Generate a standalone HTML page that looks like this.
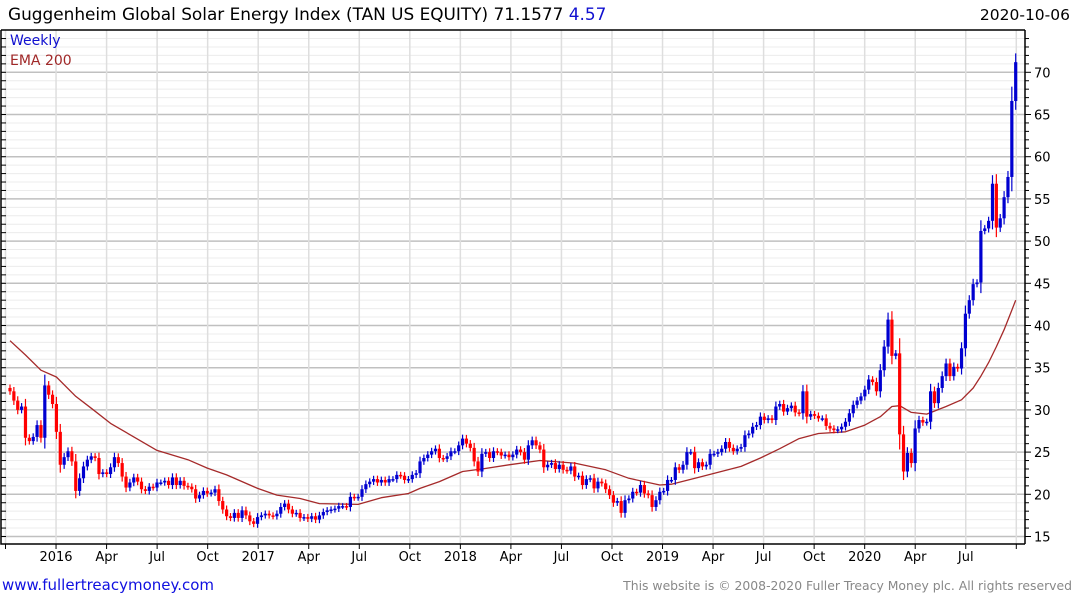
<!DOCTYPE html>
<html><head><meta charset="utf-8"><style>
html,body{margin:0;padding:0;background:#fff;}
body{width:1075px;height:600px;overflow:hidden;font-family:"DejaVu Sans","Liberation Sans",sans-serif;}
svg text{font-family:"DejaVu Sans","Liberation Sans",sans-serif;}
</style></head><body>
<svg id="chart" width="1075" height="600" xmlns="http://www.w3.org/2000/svg">
<g id="grid"></g>
<g id="ema"></g>
<g id="candles"></g>
<g id="axes"></g>
<text x="8" y="20" font-size="16.9" fill="#000">Guggenheim Global Solar Energy Index (TAN US EQUITY) 71.1577 <tspan fill="#1010d0">4.57</tspan></text>
<text x="1070" y="20" font-size="15.5" fill="#000" text-anchor="end">2020-10-06</text>
<text x="10" y="45" font-size="14" fill="#1010d0">Weekly</text>
<text x="10" y="65" font-size="14" fill="#a02828">EMA 200</text>
<text x="2" y="590" font-size="15" fill="#1010e0">www.fullertreacymoney.com</text>
<text x="1072" y="590" font-size="12.4" fill="#888" text-anchor="end">This website is © 2008-2020 Fuller Treacy Money plc. All rights reserved</text>
</svg>
<script>
const closes = [
32.2,31.1,30.0,30.4,26.7,26.3,26.8,28.2,26.7,32.9,
31.8,30.7,27.4,23.5,24.4,25.1,23.9,20.4,21.9,23.3,
24.1,24.5,24.3,22.4,22.6,22.4,23.2,24.4,23.7,22.1,
20.8,21.4,22.0,21.5,20.6,20.4,20.9,20.8,21.4,21.4,
21.6,21.1,22.0,21.1,21.6,21.0,20.9,20.6,19.5,19.9,
20.4,20.1,20.2,20.6,19.2,18.2,17.4,17.2,17.8,17.2,
18.1,17.5,16.8,16.5,17.3,17.5,17.7,17.5,17.4,17.7,
18.5,18.9,18.2,17.7,17.8,17.2,17.3,17.1,17.4,17.0,
17.5,17.9,18.1,18.2,18.3,18.6,18.6,18.5,19.7,19.6,
19.7,
20.6,21.2,21.5,21.8,21.4,21.7,21.4,21.8,21.8,22.3,
22.2,21.7,21.8,22.3,22.5,23.9,24.3,24.7,25.1,25.4,
24.3,24.2,24.5,25.1,25.1,25.8,26.6,26.0,25.5,23.9,
22.7,24.8,25.0,24.3,25.1,25.0,24.6,24.7,24.4,24.7,
25.3,25.0,24.1,25.8,26.4,25.8,25.3,23.2,23.5,23.7,
23.0,23.5,22.9,22.8,23.3,22.1,22.2,21.1,21.8,21.9,
20.7,21.5,21.3,20.6,19.9,19.0,19.2,17.8,19.3,19.5,
20.3,20.2,21.1,20.1,19.9,18.5,19.3,20.3,20.4,21.7,
21.7,23.2,22.9,23.5,
25.0,25.0,23.1,23.8,23.3,23.5,24.8,24.8,25.0,25.4,
26.2,25.5,25.1,25.4,25.6,27.0,27.2,28.0,28.2,29.2,
28.8,29.0,28.8,30.4,30.7,29.8,30.2,30.5,29.7,29.6,
32.2,29.2,29.5,29.3,29.0,29.0,28.1,27.8,27.6,27.7,
28.0,28.6,29.6,30.6,31.1,31.6,32.4,33.6,33.3,32.2,
34.7,37.5,40.7,36.4,36.7,27.1,22.7,24.9,23.7,27.8,
28.8,28.5,28.6,32.2,30.8,32.6,34.0,35.5,34.0,35.1,
34.9,37.3,41.4,43.0,44.9,
45.1,51.2,51.5,52.4,56.8,51.6,52.7,55.2,57.6,66.6,71.2
];
const firstOpen = 32.6;
const emaWeeks = [0,4,8,12,17,21,26,32,38,46,51,56,64,69,75,80,85,90,96,103,106,111,117,122,129,137,146,154,160,168,171,178,189,194,199,204,209,216,221,225,228,230,233,237,242,246,249,251,253,255,257,259,260];
const emaValues = [38.2,36.5,34.7,33.9,31.6,30.2,28.4,26.8,25.2,24.1,23.1,22.3,20.7,19.9,19.5,18.9,18.85,18.8,19.6,20.1,20.7,21.5,22.7,23.0,23.5,24.0,23.7,22.9,21.9,21.1,21.2,22.0,23.3,24.3,25.4,26.6,27.2,27.4,28.2,29.2,30.4,30.5,29.7,29.5,30.4,31.2,32.6,34.0,35.6,37.5,39.5,41.8,43.0];
const yTicks = [15,20,25,30,35,40,45,50,55,60,65,70];
const xTickLabels = ["","2016","Apr","Jul","Oct","2017","Apr","Jul","Oct","2018","Apr","Jul","Oct","2019","Apr","Jul","Oct","2020","Apr","Jul",""];

const NS = "http://www.w3.org/2000/svg";
const L = 1, R = 1025, T = 30, B = 544;
const yScale = v => 72.3 + (70 - v) * 8.44;
const x0 = 10, x1 = 1015.7;
const xScale = i => x0 + i * (x1 - x0) / (closes.length - 1);
const qx = k => 5.5 + k * 50.54;
function mk(tag, attrs, parent){const e=document.createElementNS(NS,tag);for(const k in attrs)e.setAttribute(k,attrs[k]);parent.appendChild(e);return e;}
const grid = document.getElementById('grid'), axes = document.getElementById('axes');

for (let v = 15; v <= 74; v++) {
  const y = yScale(v);
  if (y < T) continue;
  const major = v % 5 === 0;
  const ln = mk('line', {x1:L, x2:R, y1:y, y2:y, stroke: major ? '#c0c0c0' : '#ececec', 'stroke-width': major ? 1.5 : 1}, grid);
  
  
  const tk = mk('line', {x1:R, x2:R + (major ? 6 : 4), y1:y, y2:y, stroke:'#000'}, axes);
  
  
  const lt = mk('line', {x1:L, x2:L + 5, y1:y, y2:y, stroke:'#000'}, axes);
  
  
}
xTickLabels.forEach((lab, k) => {
  const x = qx(k);
  if (x > R) return;
  const g = mk('line', {x1:x, x2:x, y1:T, y2:B, stroke:'#dedede', 'stroke-width':1.5}, grid);
  
  
  const t = mk('line', {x1:x, x2:x, y1:B, y2:B + 5, stroke:'#000'}, axes);
  
  
  if (lab) {
    const tx = mk('text', {x:x, y:B + 17, 'font-size':13, 'text-anchor':'middle', fill:'#000'}, axes);
    tx.textContent = lab;
    
    
  }
});
yTicks.forEach(v => {
  const t = mk('text', {x:R + 9, y:yScale(v) + 5, 'font-size':13, fill:'#000'}, axes);
  t.textContent = v;
  
  
});
const fr = mk('path', {d:`M${L},${T} L${R},${T} M${L},${T} L${L},${B} L${R},${B} M${R},${T} L${R},${B}`, stroke:'#000', fill:'none', 'stroke-width':1.5}, axes);



const emaG = document.getElementById('ema');
const pts = emaWeeks.map((w, j) => xScale(w).toFixed(1) + ',' + yScale(emaValues[j]).toFixed(1)).join(' ');
const pl = mk('polyline', {points:pts, fill:'none', stroke:'#a52a2a', 'stroke-width':1.3, 'stroke-linejoin':'round'}, emaG);



const cg = document.getElementById('candles');
closes.forEach((c, i) => {
  const o = i === 0 ? firstOpen : closes[i - 1];
  const up = c >= o;
  const col = up ? '#0000d0' : '#ff0000';
  const body = Math.abs(c - o);
  const pad = 0.35 + 0.15 * body;
  const hi = Math.max(o, c) + pad, lo = Math.min(o, c) - pad;
  const x = xScale(i);
  const g = mk('g', {}, cg);
  
  
  mk('line', {x1:x, x2:x, y1:yScale(hi), y2:yScale(lo), stroke:col, 'stroke-width':1.2}, g);
  const yt = yScale(Math.max(o, c)), yb = yScale(Math.min(o, c));
  mk('rect', {x:x - 1.6, y:yt, width:3.2, height:Math.max(1.5, yb - yt), fill:col}, g);
});
</script>
</body></html>
